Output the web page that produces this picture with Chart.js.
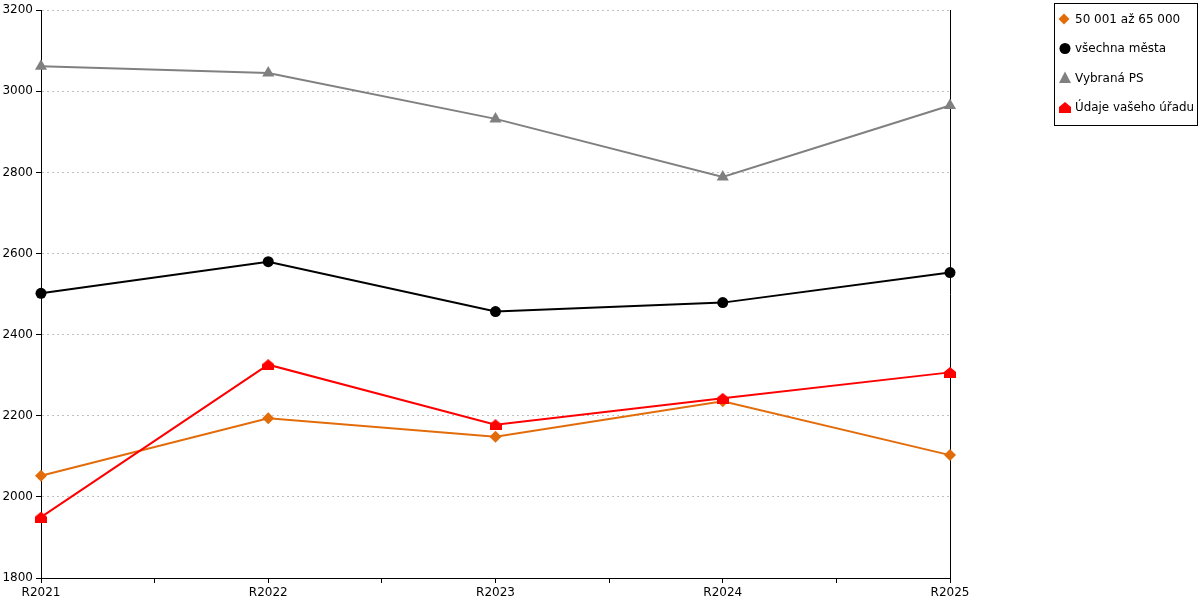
<!DOCTYPE html>
<html>
<head>
<meta charset="utf-8">
<script src="https://cdn.jsdelivr.net/npm/chart.js@4.4.1/dist/chart.umd.min.js"></script>
<style>
html,body{margin:0;padding:0;background:#fff;}
#wrap{position:relative;width:1200px;height:600px;}
</style>
</head>
<body>
<div id="wrap"><canvas id="c" width="1200" height="600"></canvas></div>
<script>
const categories = ['R2021', 'R2022', 'R2023', 'R2024', 'R2025'];
const seriesNames = ['50 001 až 65 000', 'všechna města', 'Vybraná PS', 'Údaje vašeho úřadu'];
const valuesOrange = [2052, 2194, 2148, 2236, 2103];
const valuesBlack = [2502, 2580, 2457, 2479, 2553];
const valuesGray = [3062, 3045, 2932, 2789, 2965];
const valuesRed = [1950, 2326, 2178, 2243, 2307];
const yTicks = [1800, 2000, 2200, 2400, 2600, 2800, 3000, 3200];

const FONT = 'DejaVu Sans';
const FSIZE = 12;
const ORANGE = '#E36C0A', BLACK = '#000000', GRAY = '#808080', RED = '#FF0000';

function houseCanvas() {
  const c = document.createElement('canvas');
  c.width = 12; c.height = 11;
  const g = c.getContext('2d');
  g.fillStyle = RED;
  g.beginPath();
  g.moveTo(6, 0); g.lineTo(12, 5); g.lineTo(12, 11); g.lineTo(0, 11); g.lineTo(0, 5);
  g.closePath(); g.fill();
  return c;
}
const house = houseCanvas();

const toXY = arr => arr.map((v, i) => ({x: i, y: v}));

const legendPlugin = {
  id: 'boxLegend',
  afterDraw(chart) {
    const ctx = chart.ctx;
    const bx = chart.width - 146, by = 3, bw = 143, bh = 122;
    ctx.save();
    ctx.strokeStyle = '#000'; ctx.lineWidth = 1;
    ctx.strokeRect(bx + 0.5, by + 0.5, bw, bh);
    ctx.font = FSIZE + 'px "' + FONT + '"';
    ctx.textBaseline = 'middle';
    ctx.fillStyle = '#000';
    const mx = bx + 10, tx = bx + 21;
    chart.data.datasets.forEach((ds, i) => {
      const y = by + 16 + i * 29.5;
      ctx.save();
      ctx.fillStyle = ds.pointBackgroundColor;
      ctx.beginPath();
      if (ds.pointStyle === 'rectRot') {
        ctx.moveTo(mx, y - 5.5); ctx.lineTo(mx + 5.5, y); ctx.lineTo(mx, y + 5.5); ctx.lineTo(mx - 5.5, y); ctx.closePath(); ctx.fill();
      } else if (ds.pointStyle === 'circle') {
        ctx.arc(mx + 1, y, 5.5, 0, Math.PI * 2); ctx.fill();
      } else if (ds.pointStyle === 'triangle') {
        ctx.moveTo(mx + 1, y - 6.5); ctx.lineTo(mx + 7, y + 5); ctx.lineTo(mx - 5, y + 5); ctx.closePath(); ctx.fill();
      } else {
        ctx.drawImage(house, mx - 5, y - 5.5);
      }
      ctx.restore();
      ctx.fillText(ds.label, tx, y + 0.5, bw - 24);
    });
    ctx.restore();
  }
};

new Chart(document.getElementById('c'), {
  type: 'line',
  data: {
    datasets: [
      {label: seriesNames[0], data: toXY(valuesOrange), borderColor: ORANGE, backgroundColor: ORANGE,
       pointBackgroundColor: ORANGE, pointBorderColor: ORANGE, pointStyle: 'rectRot', pointRadius: 6, pointBorderWidth: 0, borderWidth: 2, order: 3, clip: false},
      {label: seriesNames[1], data: toXY(valuesBlack), borderColor: BLACK, backgroundColor: BLACK,
       pointBackgroundColor: BLACK, pointBorderColor: BLACK, pointStyle: 'circle', pointRadius: 5.5, pointBorderWidth: 0, borderWidth: 2, order: 2, clip: false},
      {label: seriesNames[2], data: toXY(valuesGray), borderColor: GRAY, backgroundColor: GRAY,
       pointBackgroundColor: GRAY, pointBorderColor: GRAY, pointStyle: 'triangle', pointRadius: 7, pointBorderWidth: 0, borderWidth: 2, order: 1, clip: false},
      {label: seriesNames[3], data: toXY(valuesRed), borderColor: RED, backgroundColor: RED,
       pointBackgroundColor: RED, pointBorderColor: RED, pointStyle: house, pointRadius: 6, pointBorderWidth: 0, borderWidth: 2, order: 0, clip: false}
    ]
  },
  options: {
    responsive: false,
    animation: false,
    devicePixelRatio: 1,
    layout: {padding: {top: 10, right: 250, bottom: 0, left: 0}},
    plugins: {legend: {display: false}, tooltip: {enabled: false}},
    elements: {line: {tension: 0}},
    scales: {
      x: {
        type: 'linear', min: 0, max: categories.length - 1,
        afterBuildTicks(scale) {
          const t = [];
          for (let i = 0; i < categories.length; i++) {
            t.push({value: i});
            if (i < categories.length - 1) t.push({value: i + 0.5});
          }
          scale.ticks = t;
        },
        afterFit(scale) { scale.height = 22; },
        ticks: {
          autoSkip: false, maxRotation: 0, padding: 3, color: '#000',
          font: {family: FONT, size: FSIZE},
          callback: v => Number.isInteger(v) ? categories[v] : ''
        },
        grid: {drawOnChartArea: false, drawTicks: true, tickLength: 5, tickColor: '#000', color: '#000', tickBorderDash: []},
        border: {color: '#000', width: 1}
      },
      y: {
        type: 'linear', min: yTicks[0], max: yTicks[yTicks.length - 1],
        afterBuildTicks(scale) { scale.ticks = yTicks.map(v => ({value: v})); },
        afterFit(scale) { scale.width = 41; },
        ticks: {padding: 3, color: '#000', font: {family: FONT, size: FSIZE}, callback: v => String(v)},
        grid: {color: '#C0C0C0', lineWidth: 1, tickLength: 5, tickColor: '#000', tickBorderDash: []},
        border: {color: '#000', width: 1, dash: [2, 3]}
      },
      y2: {
        type: 'linear', position: 'right', min: yTicks[0], max: yTicks[yTicks.length - 1],
        afterFit(scale) { scale.width = 0; },
        ticks: {display: false},
        grid: {display: false, drawOnChartArea: false, drawTicks: false},
        border: {display: true, color: '#000', width: 1}
      }
    }
  },
  plugins: [legendPlugin]
});
</script>
</body>
</html>
